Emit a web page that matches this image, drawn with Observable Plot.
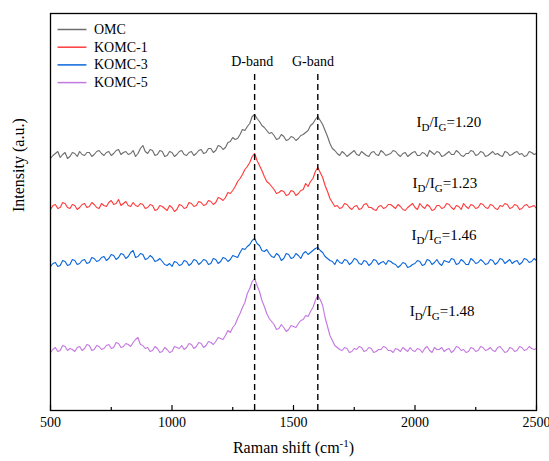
<!DOCTYPE html>
<html><head><meta charset="utf-8">
<script src="https://cdn.jsdelivr.net/npm/d3@7"></script>
<script src="https://cdn.jsdelivr.net/npm/@observablehq/plot@0.6"></script>
<style>
body{margin:0;background:#fff;}
#chart svg, #chart svg text, #chart svg tspan {font-family: "Liberation Serif", "Times New Roman", "DejaVu Serif", serif !important;}
</style>
</head><body><div id="chart"></div>
<script>
// Raman shift sampling grid (cm^-1)
const shifts = d3.range(500, 2501, 10);
// Series names, colours, stacking offsets
const names = ["OMC", "KOMC-1", "KOMC-3", "KOMC-5"];
const colors = ["#6d6d6d", "#ff3c3c", "#0a66dc", "#c479e0"];
const offsets = [254, 203, 148, 62];
// Intensities (a.u.) relative to each spectrum's baseline
const omc = [
  -2,1,3,5,-1,2,4,-2,0,4,3,0,5,2,1,4,4,0,2,5,
  6,3,1,4,5,1,3,6,7,2,4,5,2,3,6,0,3,8,11,5,
  3,7,6,1,2,6,5,0,1,5,4,0,2,5,6,2,1,4,5,1,
  3,6,7,3,4,8,8,4,6,11,10,7,9,14,15,19,17,18,22,27,
  26,30,33,40,42,38,35,31,29,26,23,24,21,17,18,22,20,16,17,20,
  19,16,18,21,22,24,26,31,33,37,40,36,32,26,20,13,8,6,3,1,
  5,3,0,2,4,6,2,1,5,3,1,0,4,5,2,1,6,4,1,2,
  3,6,5,2,0,3,4,0,2,4,5,1,1,4,3,0,6,4,2,5,
  4,0,1,3,5,2,2,6,4,1,0,3,3,6,5,1,2,5,4,0,
  1,3,5,2,3,1,0,5,4,1,2,4,5,2,3,0,1,5,4,2,
  3];
const komc1 = [
  -2,2,3,-1,0,5,4,0,-1,3,2,-2,0,3,4,0,1,5,3,0,
  -1,4,2,1,5,7,3,4,8,2,4,6,2,1,5,2,1,4,3,-1,
  0,3,2,-3,-2,2,1,-1,-3,2,0,-4,-2,3,2,-1,0,5,4,1,
  2,6,5,2,3,7,6,3,5,10,9,7,10,15,14,17,21,26,29,33,
  38,41,45,51,54,47,42,37,31,26,24,21,18,14,15,17,16,12,13,17,
  16,12,14,17,18,24,21,26,29,36,40,35,30,22,16,9,5,1,2,-1,
  0,4,3,0,-2,1,2,-2,-1,3,4,0,0,-2,-3,1,2,-1,0,3,
  3,1,-1,3,1,-2,-3,0,2,4,0,-2,4,1,-1,3,1,-3,-2,2,
  2,-1,0,4,3,0,-2,2,1,-2,4,1,-1,3,2,-1,0,4,3,0,
  -1,3,2,-1,-2,2,1,4,3,-1,0,3,2,-2,-1,2,3,0,1,2,
  -1];
const komc3 = [
  -4,-1,0,-4,-3,2,1,-3,-2,3,2,-2,-1,2,3,-1,0,5,4,1,
  2,5,6,2,4,8,7,3,5,9,8,4,6,10,12,5,6,9,8,3,
  4,7,5,1,2,4,1,-2,-3,-1,-4,1,0,-3,-2,2,1,-3,-1,3,
  2,-2,0,3,2,-2,-1,4,3,-1,1,5,4,1,3,7,6,5,10,14,
  13,16,18,22,24,19,17,12,11,13,9,6,5,9,7,2,4,9,8,4,
  5,9,7,4,9,11,8,10,12,14,15,12,10,6,4,2,1,-2,3,0,
  -1,3,2,-2,0,4,3,-1,-2,2,1,-3,-1,3,2,-2,0,1,-2,2,
  1,-1,-2,-5,-3,0,-1,-5,-4,-2,-1,2,1,-3,-2,3,2,-2,0,3,
  -1,-3,2,1,0,4,3,-2,-1,3,1,-2,-2,4,2,-1,0,3,1,-2,
  -1,3,2,-2,0,4,3,-1,1,3,-1,1,2,-2,0,4,3,0,1,4,
  2];
const komc5 = [
  -4,-1,1,-3,-2,3,2,-2,0,-1,-3,1,2,-2,0,4,3,-2,-1,3,
  2,-1,0,3,4,0,1,6,5,1,2,5,4,2,6,9,11,4,3,0,
  1,-3,-2,2,0,-4,-3,1,-1,-4,-3,2,1,0,3,-1,1,5,4,0,
  2,6,5,1,3,7,6,4,7,11,10,9,13,18,16,21,24,30,35,41,
  46,55,60,67,70,63,57,48,42,35,30,27,24,19,20,24,21,17,19,23,
  22,21,25,28,29,33,32,37,41,48,53,49,43,31,22,13,8,3,1,-1,
  -2,1,0,-4,-3,0,-1,2,1,-3,-2,1,0,-4,-3,-1,-1,2,1,-2,
  -2,-4,0,-1,-3,1,-1,-3,1,-2,-3,0,-1,-4,0,2,-2,-4,1,-1,
  -1,1,-3,-1,0,-4,-2,2,1,-2,-1,-4,-3,1,0,-3,-2,2,1,-2,
  -1,1,-2,-3,1,2,-1,-4,-3,1,0,-3,-2,2,1,-2,-1,2,0,-1,
  0];
const seriesValues = [omc, komc1, komc3, komc5];
const ratios = ["ID/IG=1.20", "ID/IG=1.23", "ID/IG=1.46", "ID/IG=1.48"];
const bands = ["D-band", "G-band"];
const bandShifts = [1340, 1600];
const majorTicks = [500, 1000, 1500, 2000, 2500];
const minorTicks = [750, 1250, 1750, 2250];

const serif = "Liberation Serif, Times New Roman, DejaVu Serif, serif";
const rows = names.flatMap((name, i) => shifts.map((x, j) => ({name, x, y: seriesValues[i][j] + offsets[i]})));
const ratioRows = ratios.map((t, i) => ({t, x: [2006, 1990, 1986, 1978][i], y: [288, 227, 175, 99][i]}));
const legendRows = names.map((name, i) => ({name, y: 381 - i * 17.7}));

const svg = Plot.plot({
  width: 549, height: 461,
  marginLeft: 50, marginRight: 13, marginTop: 13, marginBottom: 51,
  style: {fontFamily: serif, fontSize: "14px", background: "#fff", color: "#000"},
  x: {domain: [500, 2500], ticks: majorTicks, tickSize: 0, tickPadding: 7, tickFormat: "d", label: null},
  y: {domain: [0, 397], axis: null},
  color: {domain: names, range: colors},
  marks: [
    Plot.line(rows, {x: "x", y: "y", z: "name", stroke: "name", strokeWidth: 1.15}),
    Plot.ruleX(bandShifts, {y1: 0, y2: 338, stroke: "#000", strokeWidth: 1.4, strokeDasharray: "6,4"}),
    Plot.text(bands, {x: [1330, 1580], y: 349, text: d => d, fontSize: 14, fontFamily: serif, fill: "#000"}),
    Plot.text(ratioRows, {x: "x", y: "y", text: "t", textAnchor: "start", fontSize: 15, fontFamily: serif, fill: "#000"}),
    Plot.ruleY(legendRows, {y: "y", x1: 531, x2: 650, stroke: "name", strokeWidth: 1.5}),
    Plot.text(legendRows, {x: 679, y: "y", text: "name", textAnchor: "start", fontSize: 14, fontFamily: serif, fill: "#000"}),
    Plot.ruleX(majorTicks, {y1: 0, y2: 5, stroke: "#000", strokeWidth: 1.2}),
    Plot.ruleX(minorTicks, {y1: 0, y2: 3, stroke: "#000", strokeWidth: 1.2}),
    Plot.frame({stroke: "#000", strokeWidth: 1.3}),
    Plot.text(["Raman shift (cm-1)"], {frameAnchor: "bottom", dy: 42, fontSize: 16, fontFamily: serif, fill: "#000"}),
    Plot.text(["Intensity (a.u.)"], {frameAnchor: "left", dx: -32, rotate: -90, fontSize: 16, fontFamily: serif, fill: "#000"})
  ]
});

d3.select(svg).selectAll("text").each(function() {
  const s = this.textContent;
  const t = d3.select(this);
  if (s.startsWith("ID/IG=")) {
    t.text(null);
    t.append("tspan").text("I");
    t.append("tspan").attr("dy", 4).attr("font-size", 11).text("D");
    t.append("tspan").attr("dy", -4).text("/I");
    t.append("tspan").attr("dy", 4).attr("font-size", 11).text("G");
    t.append("tspan").attr("dy", -4).text(s.slice(5));
  } else if (s === "Raman shift (cm-1)") {
    t.text(null);
    t.append("tspan").text("Raman shift (cm");
    t.append("tspan").attr("dy", -6).attr("font-size", 11).text("-1");
    t.append("tspan").attr("dy", 6).text(")");
  }
});
document.getElementById("chart").appendChild(svg);
</script>
</body></html>
